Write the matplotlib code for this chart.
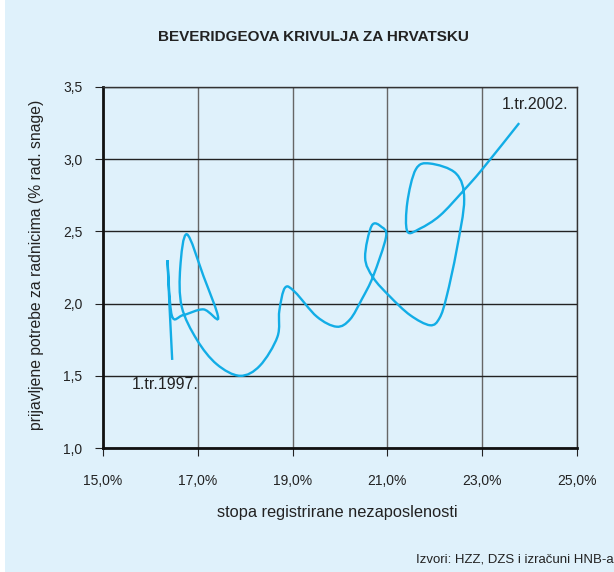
import numpy as np
import matplotlib.pyplot as plt
from matplotlib.path import Path
from matplotlib.patches import PathPatch, Rectangle

plt.rcParams['font.family'] = ['Liberation Sans', 'DejaVu Sans']

# stopa registrirane nezaposlenosti (%) i prijavljene potrebe za radnicima (%)
nezaposlenost = [16.46, 16.36, 16.45, 16.69, 17.12, 17.43, 17.12, 16.77, 16.63, 16.66,
                 16.98, 17.40, 17.89, 18.31, 18.68, 18.72, 18.84, 19.05, 19.51, 19.93,
                 20.21, 20.46, 20.70, 20.97, 20.88, 20.67, 20.53, 20.70, 21.05, 21.48,
                 21.90, 22.10, 22.25, 22.46, 22.62, 22.45, 21.90, 21.60, 21.42, 21.42,
                 21.69, 22.11, 22.60, 23.00, 23.78]
potrebe = [1.61, 2.30, 1.92, 1.92, 1.96, 1.90, 2.19, 2.48, 2.25, 1.98,
           1.75, 1.58, 1.50, 1.57, 1.77, 1.95, 2.11, 2.08, 1.91, 1.84,
           1.89, 2.03, 2.19, 2.46, 2.53, 2.54, 2.32, 2.18, 2.05, 1.92,
           1.85, 1.90, 2.05, 2.37, 2.72, 2.90, 2.97, 2.93, 2.70, 2.50,
           2.52, 2.61, 2.78, 2.93, 3.25]

x_ticks = [15, 17, 19, 21, 23, 25]
x_labels = ['15,0%', '17,0%', '19,0%', '21,0%', '23,0%', '25,0%']
y_ticks = [1.0, 1.5, 2.0, 2.5, 3.0, 3.5]
y_labels = ['1,0', '1,5', '2,0', '2,5', '3,0', '3,5']

bg = '#dff1fb'
plava = '#12ade6'


def glatka_putanja(xs, ys):
    # zagladena linija kao u Excelu (Catmull-Rom preko Bezierovih krivulja)
    p = np.column_stack([xs, ys])
    verts = [p[0]]
    codes = [Path.MOVETO]
    n = len(p)
    for i in range(n - 1):
        p0 = p[i - 1] if i > 0 else p[i]
        p1 = p[i]
        p2 = p[i + 1]
        p3 = p[i + 2] if i + 2 < n else p[i + 1]
        verts += [p1 + (p2 - p0) / 6, p2 - (p3 - p1) / 6, p2]
        codes += [Path.CURVE4] * 3
    return Path(verts, codes)


fig = plt.figure(figsize=(6.14, 5.72), dpi=100, facecolor='white')
fig.patches.append(Rectangle((5 / 614, 0), 1, 1, transform=fig.transFigure,
                             facecolor=bg, edgecolor='none', zorder=-10))

ax = fig.add_axes([103 / 614, 1 - 448 / 572, 474 / 614, 361 / 572])
ax.set_facecolor(bg)

ax.add_patch(PathPatch(glatka_putanja(nezaposlenost, potrebe), fill=False,
                       edgecolor=plava, lw=1.7, capstyle='butt', zorder=3))

ax.set_xlim(15, 25)
ax.set_ylim(1.0, 3.5)
ax.set_xticks(x_ticks)
ax.set_xticklabels(x_labels)
ax.set_yticks(y_ticks)
ax.set_yticklabels(y_labels)
ax.tick_params(axis='both', direction='out', length=6, width=0.8, labelsize=10,
               colors='#222222')
ax.tick_params(axis='x', pad=13)
ax.tick_params(axis='y', pad=9)

ax.xaxis.grid(True, color='#666666', lw=1.0)
ax.yaxis.grid(True, color='#222222', lw=1.0)
ax.set_axisbelow(True)

for s in ['left', 'bottom']:
    ax.spines[s].set_linewidth(2.0)
    ax.spines[s].set_color('#111111')
for s in ['top', 'right']:
    ax.spines[s].set_linewidth(1.0)
    ax.spines[s].set_color('#333333')

ax.text(16.31, 1.44, '1.tr.1997.', fontsize=11.5, color='#222222', ha='center', va='center')
ax.text(24.11, 3.38, '1.tr.2002.', fontsize=11.5, color='#222222', ha='center', va='center')

fig.text(313 / 614, 1 - 37 / 572, 'BEVERIDGEOVA KRIVULJA ZA HRVATSKU', fontsize=11,
         fontweight='bold', ha='center', va='center', color='#222222')
fig.text(337 / 614, 1 - 512 / 572, 'stopa registrirane nezaposlenosti', fontsize=11.8,
         ha='center', va='center', color='#222222')
fig.text(37 / 614, 1 - 265 / 572, 'prijavljene potrebe za radnicima (% rad. snage)',
         fontsize=11.3, rotation=90, ha='center', va='center', color='#222222')
fig.text(1.0, 1 - 560 / 572, 'Izvori: HZZ, DZS i izračuni HNB-a', fontsize=9.5,
         ha='right', va='center', color='#222222')

fig.savefig('out.png', dpi=100, facecolor=fig.get_facecolor())
